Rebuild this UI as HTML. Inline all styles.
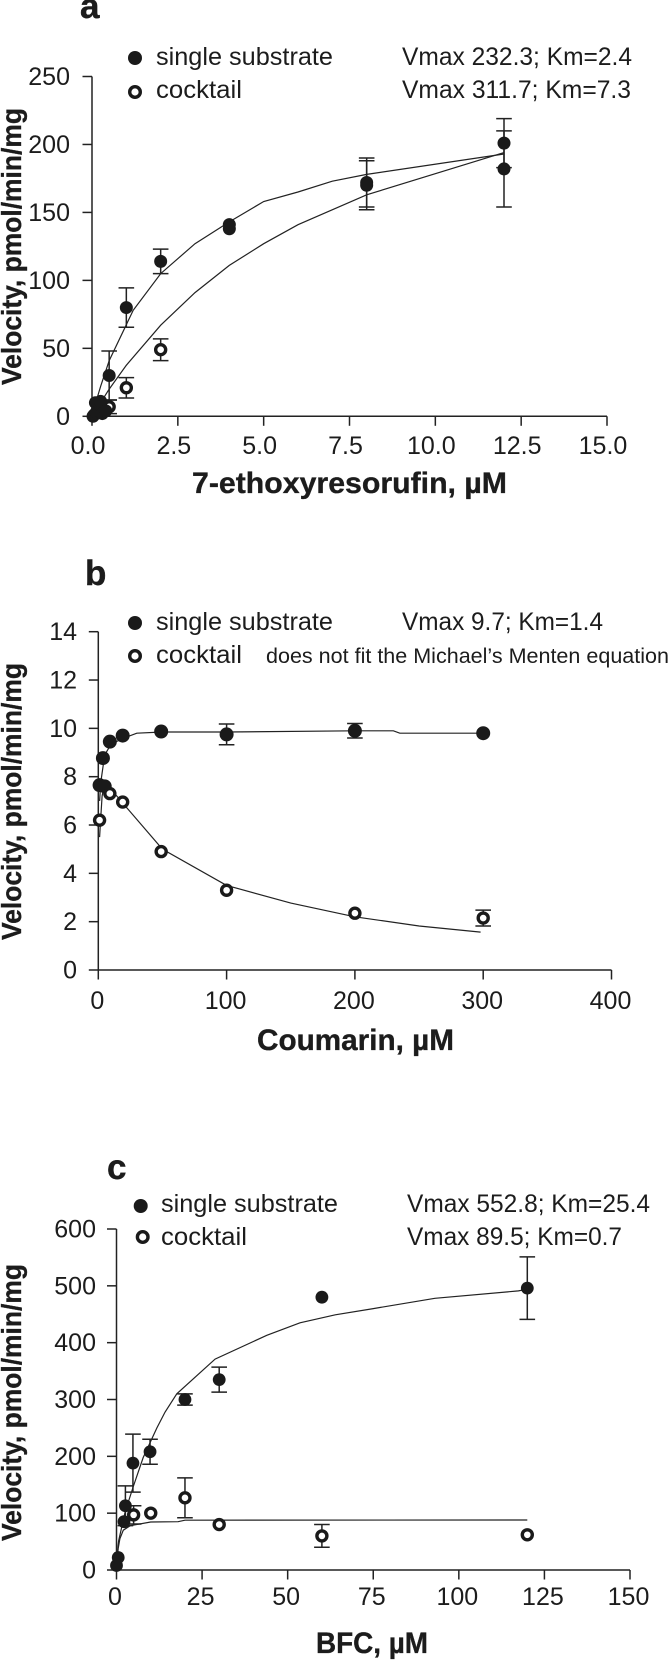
<!DOCTYPE html>
<html lang="en">
<head>
<meta charset="utf-8">
<title>Enzyme kinetics: velocity versus substrate concentration</title>
<style>
html,body{margin:0;padding:0;background:#fff;}
svg{display:block;}
text{font-family:"Liberation Sans",sans-serif;fill:#1c1c1c;}
.tick{font-size:25px;}
.leg{font-size:25px;}
.small{font-size:21px;}
.title{font-size:30px;font-weight:bold;stroke:#1c1c1c;stroke-width:0.35px;}
.ytitle{font-size:27.5px;font-weight:bold;stroke:#1c1c1c;stroke-width:0.35px;}
.letter{font-size:35px;font-weight:bold;stroke:#1c1c1c;stroke-width:0.4px;}
</style>
</head>
<body>
<svg id="figure" width="670" height="1660" viewBox="0 0 670 1660" xmlns="http://www.w3.org/2000/svg">
  <g id="panel-a">
    <text class="letter" x="80" y="18">a</text>
    <text class="leg" x="156" y="65" textLength="177" lengthAdjust="spacingAndGlyphs">single substrate</text>
    <text class="leg" x="156" y="98" textLength="86" lengthAdjust="spacingAndGlyphs">cocktail</text>
    <text class="leg" x="402" y="65" textLength="230" lengthAdjust="spacingAndGlyphs">Vmax 232.3; Km=2.4</text>
    <text class="leg" x="402" y="98" textLength="229" lengthAdjust="spacingAndGlyphs">Vmax 311.7; Km=7.3</text>
    <text class="title" x="192" y="493" textLength="315" lengthAdjust="spacingAndGlyphs">7-ethoxyresorufin, µM</text>
    <text class="ytitle" transform="translate(21,385) rotate(-90)" textLength="277" lengthAdjust="spacingAndGlyphs">Velocity, pmol/min/mg</text>
  </g>
  <g id="panel-b">
    <text class="letter" x="85" y="585">b</text>
    <text class="leg" x="156" y="630" textLength="177" lengthAdjust="spacingAndGlyphs">single substrate</text>
    <text class="leg" x="156" y="663" textLength="86" lengthAdjust="spacingAndGlyphs">cocktail</text>
    <text class="leg" x="402" y="630" textLength="201" lengthAdjust="spacingAndGlyphs">Vmax 9.7; Km=1.4</text>
    <text class="small" x="266" y="663" textLength="403" lengthAdjust="spacingAndGlyphs">does not fit the Michael’s Menten equation</text>
    <text class="title" x="257" y="1050" textLength="197" lengthAdjust="spacingAndGlyphs">Coumarin, µM</text>
    <text class="ytitle" transform="translate(21,940) rotate(-90)" textLength="277" lengthAdjust="spacingAndGlyphs">Velocity, pmol/min/mg</text>
  </g>
  <g id="panel-c">
    <text class="letter" x="107" y="1179">c</text>
    <text class="leg" x="161" y="1212" textLength="177" lengthAdjust="spacingAndGlyphs">single substrate</text>
    <text class="leg" x="161" y="1245" textLength="86" lengthAdjust="spacingAndGlyphs">cocktail</text>
    <text class="leg" x="407" y="1212" textLength="243" lengthAdjust="spacingAndGlyphs">Vmax 552.8; Km=25.4</text>
    <text class="leg" x="407" y="1245" textLength="215" lengthAdjust="spacingAndGlyphs">Vmax 89.5; Km=0.7</text>
    <text class="title" x="316" y="1653" textLength="112" lengthAdjust="spacingAndGlyphs">BFC, µM</text>
    <text class="ytitle" transform="translate(21,1541) rotate(-90)" textLength="277" lengthAdjust="spacingAndGlyphs">Velocity, pmol/min/mg</text>
  </g>
</svg>
<script>
// Panel a data
const aXTicks = ['0.0','2.5','5.0','7.5','10.0','12.5','15.0'];
const aYTicks = ['0','50','100','150','200','250'];
const aSingleX = [0.03,0.06,0.1,0.125,0.25,0.25,0.25,0.3,0.4,0.5,1,2,4,4,8,8,12,12];
const aSingleY = [0,1,10,3,3,8,11,2,4,30,80,114,141,138,172,170,201,182];
const aSingleErr = [0,0,0,0,0,0,0,0,0,18,14.5,9,0,0,18,18,18,28];
const aCocktailX = [0.5,1,2];
const aCocktailY = [7,21,49];
const aCocktailErr = [5,7.5,8];
const aSingleFitX = [0.05,0.25,0.5,1.2,2,3,4,5,6,7,8,12];
const aSingleFitY = [5,22,41,78,105,127,143,158,165,173,178,193];
const aCocktailFitX = [0.05,0.25,0.5,1,2,3,4,5,6,8,12];
const aCocktailFitY = [2,10,20,37.5,67,91,111,127,141,163,194];

// Panel b data
const bXTicks = ['0','100','200','300','400'];
const bYTicks = ['0','2','4','6','8','10','12','14'];
const bSingleX = [1,5,3.6,9,19,49,100,200,300];
const bSingleY = [7.65,7.6,8.77,9.45,9.7,9.87,9.75,9.9,9.8];
const bSingleErr = [0,0,0,0,0,0,0.43,0.3,0];
const bCocktailX = [1,9,19,49,100,200,300];
const bCocktailY = [6.2,7.3,6.95,4.9,3.3,2.35,2.15];
const bCocktailErr = [0,0,0,0,0,0,0.33];
const bSingleFitX = [1,2,5,10,20,30,50,100,200,230,235,300];
const bSingleFitY = [7,7.8,8.9,9.35,9.6,9.8,9.85,9.85,9.9,9.9,9.8,9.8];
const bCocktailFitX = [1,2,3,5,8,20,50,100,150,200,250,298];
const bCocktailFitY = [5.5,6.4,7.2,7.7,7.6,6.85,5,3.5,2.77,2.2,1.82,1.57];

// Panel c data
const cXTicks = ['0','25','50','75','100','125','150'];
const cYTicks = ['0','100','200','300','400','500','600'];
const cSingleX = [0,0.5,2.2,2.6,4.8,9.8,20,30,60,120];
const cSingleY = [8,22,85,113,188,208,300,335,480,496];
const cSingleErr = [0,0,0,35,51,22,10,22,0,55];
const cCocktailX = [5,10,20,30,60,120];
const cCocktailY = [97,100,127,80,60,62];
const cCocktailErr = [16,0,35,0,20,0];
const cSingleFitX = [0.1,0.6,2.5,4.9,7.8,11.8,14.2,17.6,28.8,43.9,53.6,63.9,75,93,117.4,120];
const cSingleFitY = [20,51,102,147,198,250,278,310,371,413,435,449,460,478,491,494];
const cCocktailFitX = [0.1,0.5,1,2,4,10,18,20,120];
const cCocktailFitY = [10,38,55,70,78,84.5,85,87.7,88];

const SVGNS = 'http://www.w3.org/2000/svg';

function el(parent, tag, attrs) {
  const node = document.createElementNS(SVGNS, tag);
  for (const key in attrs) node.setAttribute(key, attrs[key]);
  parent.appendChild(node);
  return node;
}

function drawAxes(group, box, xTicks, yTicks) {
  const sx = v => box.left + (v - box.xMin) / (box.xMax - box.xMin) * (box.right - box.left);
  const sy = v => box.bottom - (v - box.yMin) / (box.yMax - box.yMin) * (box.bottom - box.top);
  const yAxis = el(group, 'line', {x1: box.left, x2: box.left, y1: box.top, y2: box.bottom, stroke: '#222', 'stroke-width': 1.5});
  
  
  const xAxis = el(group, 'line', {x1: box.left, x2: box.right, y1: box.bottom, y2: box.bottom, stroke: '#222', 'stroke-width': 1.5});
  
  
  xTicks.forEach(label => {
    const x = sx(parseFloat(label));
    const tick = el(group, 'line', {x1: x, x2: x, y1: box.bottom, y2: box.bottom + 9.5, stroke: '#222', 'stroke-width': 1.5});
    
    
    const text = el(group, 'text', {x: x + box.xLabelShift, y: box.xLabelY, 'text-anchor': 'middle', class: 'tick'});
    text.textContent = label;
    
    
  });
  yTicks.forEach(label => {
    const y = sy(parseFloat(label));
    const tick = el(group, 'line', {x1: box.left - 9.5, x2: box.left, y1: y, y2: y, stroke: '#222', 'stroke-width': 1.5});
    
    
    const text = el(group, 'text', {x: box.yLabelX, y: y + 8.5, 'text-anchor': 'end', class: 'tick'});
    text.textContent = label;
    
    
  });
  return {sx, sy};
}

function drawFit(group, scale, xs, ys) {
  const points = xs.map((x, i) => scale.sx(x).toFixed(1) + ',' + scale.sy(ys[i]).toFixed(1)).join(' ');
  const fit = el(group, 'polyline', {points: points, fill: 'none', stroke: '#222', 'stroke-width': 1.2});
  
  
}

function drawErrors(group, scale, xs, ys, errs) {
  xs.forEach((x, i) => {
    if (!errs[i]) return;
    const px = scale.sx(x);
    const hi = scale.sy(ys[i] + errs[i]);
    const lo = scale.sy(Math.max(0, ys[i] - errs[i]));
    const path = el(group, 'path', {
      d: 'M' + (px - 7.8) + ' ' + hi + 'H' + (px + 7.8) + 'M' + px + ' ' + hi + 'V' + lo + 'M' + (px - 7.8) + ' ' + lo + 'H' + (px + 7.8),
      fill: 'none', stroke: '#222', 'stroke-width': 1.5
    });
    
    
  });
}

function drawFilled(group, scale, xs, ys, radius) {
  xs.forEach((x, i) => {
    const dot = el(group, 'circle', {cx: scale.sx(x), cy: scale.sy(ys[i]), r: radius, fill: '#1a1a1a'});
    
    
  });
}

function drawOpen(group, scale, xs, ys) {
  xs.forEach((x, i) => {
    const dot = el(group, 'circle', {cx: scale.sx(x), cy: scale.sy(ys[i]), r: 5, fill: '#fff', stroke: '#1a1a1a', 'stroke-width': 3.4});
    
    
  });
}

function drawLegendMarkers(group, fx, fy, ox, oy) {
  const filled = el(group, 'circle', {cx: fx, cy: fy, r: 7, fill: '#1a1a1a'});
  
  
  const open = el(group, 'circle', {cx: ox, cy: oy, r: 5.3, fill: '#fff', stroke: '#1a1a1a', 'stroke-width': 3.4});
  
  
}

const gA = document.getElementById('panel-a');
const gB = document.getElementById('panel-b');
const gC = document.getElementById('panel-c');

const scaleA = drawAxes(gA, {left: 92, right: 607, top: 76.5, bottom: 416.3, xMin: 0, xMax: 15, yMin: 0, yMax: 250, xLabelY: 454, xLabelShift: -4, yLabelX: 70}, aXTicks, aYTicks);
drawFit(gA, scaleA, aSingleFitX, aSingleFitY);
drawFit(gA, scaleA, aCocktailFitX, aCocktailFitY);
drawErrors(gA, scaleA, aSingleX, aSingleY, aSingleErr);
drawErrors(gA, scaleA, aCocktailX, aCocktailY, aCocktailErr);
drawOpen(gA, scaleA, aCocktailX, aCocktailY);
drawFilled(gA, scaleA, aSingleX, aSingleY, 6.5);
drawLegendMarkers(gA, 135, 58, 135, 92);

const scaleB = drawAxes(gB, {left: 98.3, right: 611.5, top: 631.7, bottom: 970, xMin: 0, xMax: 400, yMin: 0, yMax: 14, xLabelY: 1009, xLabelShift: -1, yLabelX: 77}, bXTicks, bYTicks);
drawFit(gB, scaleB, bSingleFitX, bSingleFitY);
drawFit(gB, scaleB, bCocktailFitX, bCocktailFitY);
drawErrors(gB, scaleB, bSingleX, bSingleY, bSingleErr);
drawErrors(gB, scaleB, bCocktailX, bCocktailY, bCocktailErr);
drawFilled(gB, scaleB, bSingleX, bSingleY, 7);
drawOpen(gB, scaleB, bCocktailX, bCocktailY);
drawLegendMarkers(gB, 135, 623, 135, 656);

const scaleC = drawAxes(gC, {left: 116.5, right: 630, top: 1229, bottom: 1570, xMin: 0, xMax: 150, yMin: 0, yMax: 600, xLabelY: 1605, xLabelShift: -1.5, yLabelX: 96}, cXTicks, cYTicks);
drawFit(gC, scaleC, cSingleFitX, cSingleFitY);
drawFit(gC, scaleC, cCocktailFitX, cCocktailFitY);
drawErrors(gC, scaleC, cSingleX, cSingleY, cSingleErr);
drawErrors(gC, scaleC, cCocktailX, cCocktailY, cCocktailErr);
drawOpen(gC, scaleC, cCocktailX, cCocktailY);
drawFilled(gC, scaleC, cSingleX, cSingleY, 6.4);
drawLegendMarkers(gC, 140.7, 1206, 142.7, 1237);
</script>
</body>
</html>
